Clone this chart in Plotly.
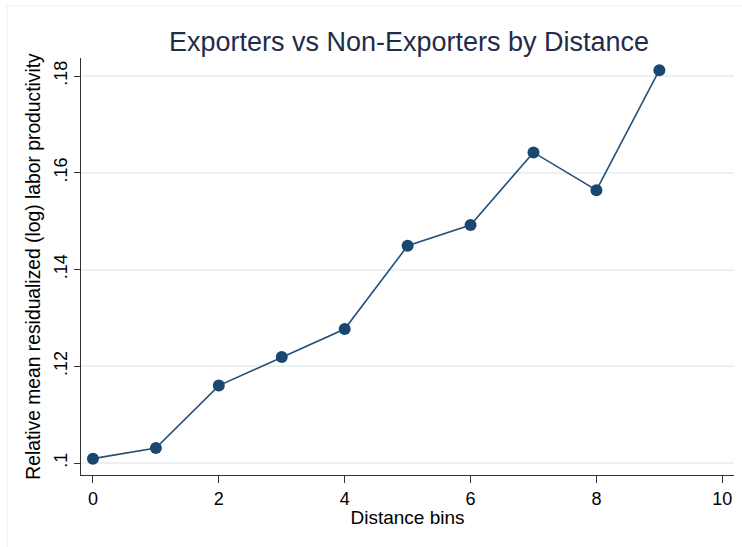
import plotly.graph_objects as go

# Data
distance_bins = [0, 1, 2, 3, 4, 5, 6, 7, 8, 9]
rel_productivity = [0.1009, 0.1031, 0.1160, 0.1219, 0.1277, 0.1449, 0.1492, 0.1642, 0.1564, 0.1812]

x_tickvals = [0, 2, 4, 6, 8, 10]
x_ticktext = ["0", "2", "4", "6", "8", "10"]
y_tickvals = [0.10, 0.12, 0.14, 0.16, 0.18]
y_ticktext = [".1", ".12", ".14", ".16", ".18"]

title_text = "Exporters vs Non-Exporters by Distance"
x_title = "Distance bins"
y_title = "Relative mean residualized (log) labor productivity"

W, H = 742, 547
ML, MR, MT, MB = 81, 8, 58, 72
FONT = "Liberation Sans, Arial, sans-serif"
NAVY = "#1a476f"

fig = go.Figure()
fig.add_trace(go.Scatter(
    x=distance_bins, y=rel_productivity, mode="lines+markers",
    line=dict(color="#23507a", width=1.6),
    marker=dict(color=NAVY, size=12, line=dict(width=0)),
    showlegend=False, hoverinfo="x+y",
))

pw = W - ML - MR
ph = H - MT - MB
def px_to_paper_x(px):
    return (px - ML) / pw
def px_to_paper_y(py):
    return 1 - (py - MT) / ph

# faint outer graph-region frame (top and left visible)
fig.add_shape(type="line", xref="paper", yref="paper",
              x0=px_to_paper_x(7), x1=px_to_paper_x(760),
              y0=px_to_paper_y(6), y1=px_to_paper_y(6),
              line=dict(color="#eeeeee", width=1))
fig.add_shape(type="line", xref="paper", yref="paper",
              x0=px_to_paper_x(7), x1=px_to_paper_x(7),
              y0=px_to_paper_y(6), y1=px_to_paper_y(560),
              line=dict(color="#eeeeee", width=1))

fig.update_layout(
    width=W, height=H,
    margin=dict(l=ML, r=MR, t=MT, b=MB, pad=0),
    paper_bgcolor="white", plot_bgcolor="white",
    font=dict(family=FONT, color="#000000", size=18),
    title=dict(text=title_text, x=(409) / W, xanchor="center",
               y=1 - 41.5 / H, yanchor="middle", yref="container",
               font=dict(family=FONT, size=27, color="#1f2d4a")),
    xaxis=dict(
        range=[-0.19, 10.186], tickmode="array",
        tickvals=x_tickvals, ticktext=x_ticktext,
        showgrid=False, zeroline=False,
        showline=True, linecolor="#333333", linewidth=1.3,
        ticks="outside", ticklen=7, tickwidth=1.2, tickcolor="#333333",
        tickfont=dict(size=18, color="#000000"),
        title=dict(text=x_title, font=dict(size=19, color="#000000"), standoff=2),
    ),
    yaxis=dict(
        range=[0.09752, 0.18372], tickmode="array",
        tickvals=y_tickvals, ticktext=y_ticktext, tickangle=-90,
        showgrid=True, gridcolor="#eaf1f3", gridwidth=1.5,
        zeroline=False,
        showline=True, linecolor="#333333", linewidth=1.3,
        ticks="outside", ticklen=6, tickwidth=1.2, tickcolor="#333333",
        tickfont=dict(size=18, color="#000000"),
        title=dict(text=y_title, font=dict(size=19.3, color="#000000"), standoff=4),
    ),
)

fig.write_html("out.html")
